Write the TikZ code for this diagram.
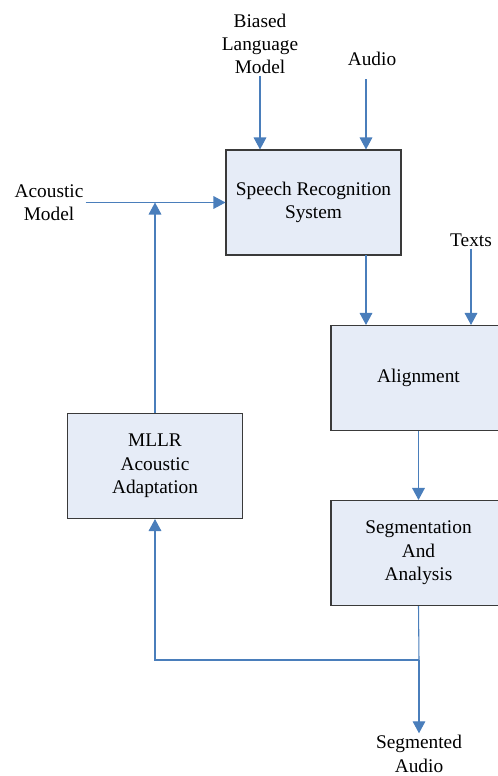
\documentclass[tikz,border=0pt]{standalone}
\usepackage{fontspec}
\setmainfont{Liberation Serif}
\usetikzlibrary{arrows.meta,calc}

\definecolor{lineblue}{HTML}{4A7EBB}
\definecolor{boxfill}{HTML}{E6ECF7}
\definecolor{boxdraw}{HTML}{3A3A3A}

\tikzset{
  blk/.style={draw=boxdraw,fill=boxfill,line width=0.8pt,minimum width=131.25pt,
    minimum height=78.75pt,align=center,inner sep=0pt},
  lbl/.style={align=center,inner sep=1.5pt},
  arr/.style={draw=lineblue,line width=0.8pt,-{Triangle[width=9.5pt,length=9pt]}},
  wire/.style={draw=lineblue,line width=0.8pt}
}

\begin{document}
\begin{tikzpicture}[x=0.75pt,y=-0.75pt,font=\fontsize{14.5}{17.5}\selectfont]
        \useasboundingbox (0,0) rectangle (498,776);
        \clip (0,0) rectangle (498,776);
        %boxes
        \node[blk] (srs) at (313.5,202.5) {Speech Recognition\\System};
        \node[blk] (align) at (418.5,378) {Alignment};
        \node[blk] (seg) at (418.5,553) {Segmentation\\And\\Analysis};
        \node[blk] (mllr) at (155,466) {MLLR\\Acoustic\\Adaptation};
        %inputs
        \node[lbl] (blm) at (260,44) {Biased\\Language\\Model};
        \node[lbl] (audio) at (372,59) {Audio};
        \node[lbl] (am) at (49,202.5) {Acoustic\\Model};
        \node[lbl] (texts) at (471,240) {Texts};
        \node[lbl] (segaudio) at (419,754) {Segmented\\Audio};
        %helper points
        \coordinate (aud) at (366,79);
        \coordinate (srsout) at (366,255);
        \coordinate (split) at (419,660);
        %edges
        \draw[arr] (blm.south) -- (blm.south |- srs.north);
        \draw[arr] (aud) -- (aud |- srs.north);
        \draw[arr] (am.east) -- (srs.west);
        \draw[arr] (mllr.north) -- (mllr.north |- am.east);
        \draw[arr] (srsout) -- (srsout |- align.north);
        \draw[arr] (texts.south) -- (texts.south |- align.north);
        \draw[arr] (align.south) -- (seg.north);
        \draw[wire] (seg.south) -- (split);
        \draw[arr] (split) -- (segaudio.north);
        \draw[arr] (split) -| (mllr.south);
    \end{tikzpicture}
\end{document}
